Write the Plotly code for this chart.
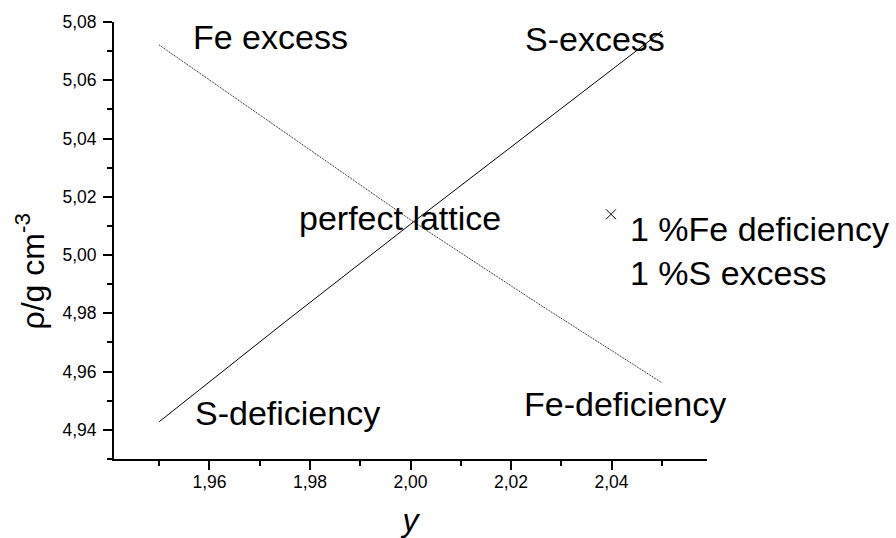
import plotly.graph_objects as go

# Data
s_x = [1.95, 1.975, 2.00, 2.025, 2.05]
s_rho = [4.9428, 4.9770, 5.0106, 5.0437, 5.0768]

fe_x = [1.95, 1.975, 2.00, 2.025, 2.05]
fe_rho = [5.0721, 5.0421, 5.0121, 4.9838, 4.9562]

pt_x = [2.0399]
pt_rho = [5.0140]

x_ticks = [1.96, 1.98, 2.00, 2.02, 2.04]
y_ticks = [4.94, 4.96, 4.98, 5.00, 5.02, 5.04, 5.06, 5.08]

labels = ["Fe excess", "S-excess", "perfect lattice", "1 %Fe deficiency<br>1 %S excess",
          "S-deficiency", "Fe-deficiency"]
label_x = [1.9564, 2.0223, 1.9775, 2.0433, 1.9568, 2.0222]
label_y = [5.0749, 5.0742, 5.0127, 5.0014, 4.9458, 4.9489]

FONT = "Liberation Sans, Arial, sans-serif"

fig = go.Figure()
fig.add_trace(go.Scatter(x=s_x, y=s_rho, mode="lines",
                         line=dict(color="black", width=1), showlegend=False))
fig.add_trace(go.Scatter(x=fe_x, y=fe_rho, mode="lines",
                         line=dict(color="black", width=1, dash="1px,1px"), showlegend=False))
fig.add_trace(go.Scatter(x=pt_x, y=pt_rho, mode="markers",
                         marker=dict(symbol="x-thin-open", size=10, color="black",
                                     line=dict(color="black", width=1)),
                         showlegend=False))

for t, lx, ly in zip(labels, label_x, label_y):
    fig.add_annotation(x=lx, y=ly, xref="x", yref="y", text=t, showarrow=False,
                       xanchor="left", yanchor="middle", align="left",
                       font=dict(family=FONT, size=34, color="black"))

# y-axis title placed as rotated text (Origin-style position, below centre)
fig.add_annotation(x=-0.141, y=0.43, xref="paper", yref="paper",
                   text="ρ/g cm<sup>-3</sup>", showarrow=False, textangle=-90,
                   xanchor="center", yanchor="middle",
                   font=dict(family=FONT, size=32, color="black"))

axis_common = dict(showgrid=False, zeroline=False, showline=True, linecolor="black",
                   linewidth=2, ticks="outside", ticklen=9, tickwidth=1.5, tickcolor="black",
                   tickfont=dict(family=FONT, size=17.5, color="black"),
                   tickformat=".2f", mirror=False)

fig.update_xaxes(range=[1.941, 2.059], tickvals=x_ticks,
                 minor=dict(dtick=0.01, tick0=1.95, ticks="outside", ticklen=5,
                            tickwidth=1.5, tickcolor="black"),
                 ticklabelstandoff=-3,
                 title=dict(text="<i>y</i>", font=dict(family=FONT, size=32, color="black"),
                            standoff=20),
                 **axis_common)
fig.update_yaxes(range=[4.93, 5.08], tickvals=y_ticks,
                 minor=dict(dtick=0.01, tick0=4.93, ticks="outside", ticklen=5,
                            tickwidth=1.5, tickcolor="black"),
                 ticklabelstandoff=3,
                 **axis_common)

fig.update_layout(width=896, height=538, plot_bgcolor="white", paper_bgcolor="white",
                  separators=", ",
                  margin=dict(l=114, r=189, t=22, b=79, autoexpand=False),
                  showlegend=False)

fig.write_html("out.html", config={"displayModeBar": False},
               post_script="document.body.style.margin='0';document.body.style.overflow='hidden';")
